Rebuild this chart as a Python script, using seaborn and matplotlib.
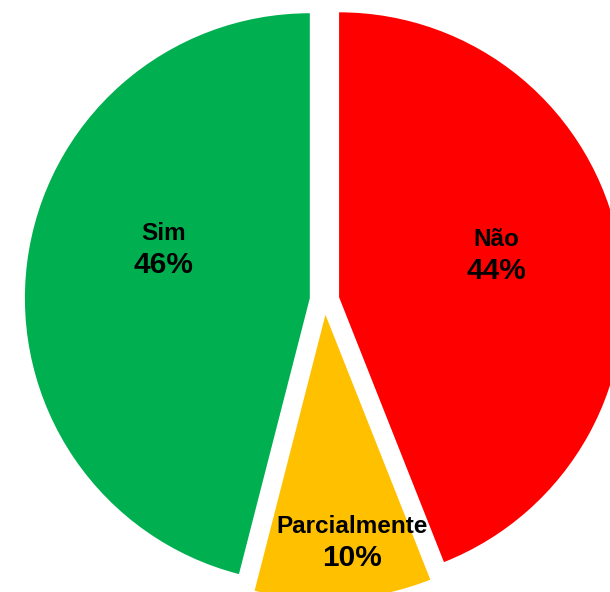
import numpy as np
import matplotlib
matplotlib.use('Agg')
import matplotlib.pyplot as plt
import seaborn as sns

# categorias e percentuais
categorias = ['Não', 'Parcialmente', 'Sim']
valores = [44, 10, 46]
cores = ['#FF0000', '#FFC000', '#00B050']

# ajustes dos rótulos (distância radial e desvio angular)
dist_rotulo = [0.57, 0.805, 0.54]
desvio_ang = [4, 3, -11]


def main():
    sns.set_style('white')
    plt.rcParams['font.family'] = ['Liberation Sans', 'DejaVu Sans']

    fig = plt.figure(figsize=(6.1, 5.92), dpi=100)
    ax = fig.add_axes([0, 0, 1, 1])

    wedges, _ = ax.pie(valores, colors=cores, startangle=90, counterclock=False,
                       explode=[0.052] * len(valores), radius=1.0,
                       wedgeprops=dict(linewidth=0))

    for w, nome, v, d, da in zip(wedges, categorias, valores, dist_rotulo, desvio_ang):
        ang = np.deg2rad((w.theta1 + w.theta2) / 2 + da)
        cx, cy = w.center
        x = cx + d * w.r * np.cos(ang)
        y = cy + d * w.r * np.sin(ang)
        ax.text(x, y + 0.058, nome, ha='center', va='center',
                fontsize=17.5, fontweight='bold', color='black')
        ax.text(x, y - 0.054, f'{v}%', ha='center', va='center',
                fontsize=21.5, fontweight='bold', color='black')

    ax.set_aspect('auto')
    ax.set_xlim(-1.139, 1.002)
    ax.set_ylim(-1.025, 1.053)
    ax.axis('off')

    fig.savefig('out.png', dpi=100, facecolor='white')


if __name__ == '__main__':
    main()
